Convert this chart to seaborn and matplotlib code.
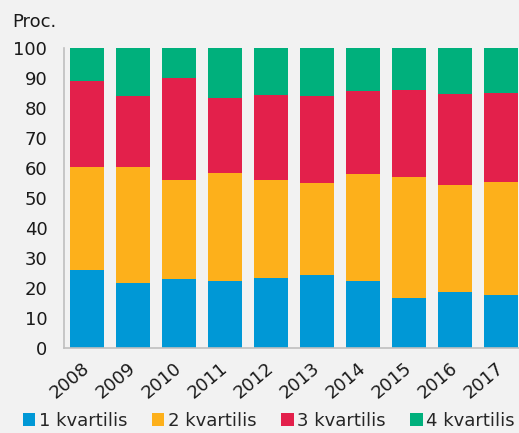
import seaborn as sns
import matplotlib.pyplot as plt
from matplotlib.patches import Patch
import pandas as pd
import numpy as np

years = ['2008', '2009', '2010', '2011', '2012', '2013', '2014', '2015', '2016', '2017']
q1 = [26.0, 21.7, 23.0, 22.3, 23.4, 24.4, 22.4, 16.8, 18.8, 17.7]
q2 = [34.4, 38.7, 33.1, 36.0, 32.6, 30.6, 35.7, 40.1, 35.6, 37.7]
q3 = [28.5, 23.6, 33.8, 25.1, 28.2, 29.0, 27.7, 29.1, 30.4, 29.7]
q4 = [11.1, 16.0, 10.1, 16.6, 15.8, 16.0, 14.2, 14.0, 15.2, 14.9]
labels = ['1 kvartilis', '2 kvartilis', '3 kvartilis', '4 kvartilis']
colors = ['#0098d6', '#fdb01b', '#e3204b', '#00b07c']

df = pd.DataFrame({'year': years, 'q1': q1, 'q2': q2, 'q3': q3, 'q4': q4})
cum = df[['q1', 'q2', 'q3', 'q4']].cumsum(axis=1)

bg = '#f2f2f2'
sns.set_style('white')
plt.rcParams['font.family'] = ['DejaVu Sans']

fig = plt.figure(figsize=(5.19, 4.33), dpi=100, facecolor=bg)
ax = fig.add_axes([64 / 519, 85 / 433, 460 / 519, 300 / 433])
ax.set_facecolor(bg)

# stacked bars: draw the tallest cumulative first, then overlay lower ones
for col, c in zip(['q4', 'q3', 'q2', 'q1'], colors[::-1]):
    sns.barplot(x=df['year'], y=cum[col], color=c, width=0.74, ax=ax,
                saturation=1, edgecolor='none')

ax.set_ylim(0, 100)
ax.set_xlim(-0.5, 9.5)
ax.set_yticks(range(0, 101, 10))
ax.set_xlabel('')
ax.set_ylabel('')
ax.tick_params(axis='y', labelsize=13, length=0, pad=12, colors='#1a1a1a')
ax.tick_params(axis='x', labelsize=13, length=0, pad=13, colors='#1a1a1a')
plt.setp(ax.get_xticklabels(), rotation=40, ha='right', va='center', rotation_mode='anchor')
for s in ['top', 'right']:
    ax.spines[s].set_visible(False)
for s in ['left', 'bottom']:
    ax.spines[s].set_color('#bfbfbf')
    ax.spines[s].set_linewidth(1.2)

fig.text(12 / 519, 1 - 22 / 433, 'Proc.', fontsize=13, va='center', ha='left', color='#1a1a1a')

handles = [Patch(facecolor=c, edgecolor='none') for c in colors]
fig.legend(handles, labels, loc='center', bbox_to_anchor=(0.518, 1 - 421 / 433), ncol=4,
           frameon=False, fontsize=13, handlelength=0.7, handleheight=0.7,
           handletextpad=0.2, columnspacing=1.35, borderaxespad=0)

fig.savefig('out.png', dpi=100, facecolor=bg)
